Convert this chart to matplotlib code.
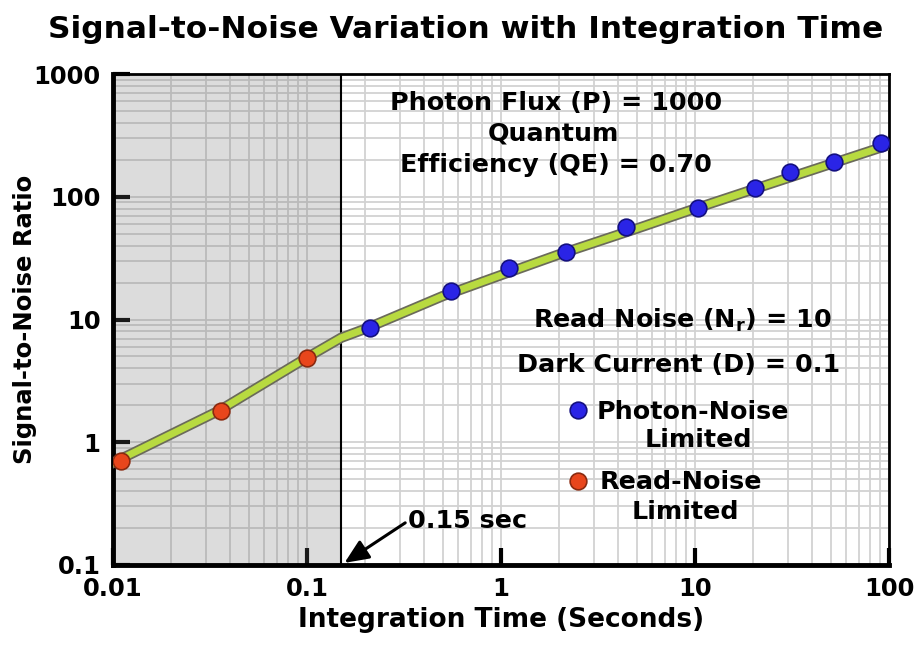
import matplotlib
matplotlib.use("Agg")
import matplotlib.pyplot as plt
import matplotlib.patheffects as pe
from matplotlib.ticker import LogLocator, NullFormatter, FixedLocator, FixedFormatter

plt.rcParams['font.family'] = ['DejaVu Sans']
plt.rcParams['font.weight'] = 'bold'
plt.rcParams['axes.labelweight'] = 'bold'
plt.rcParams['mathtext.default'] = 'bf'

# curve of S/N against integration time
tempo_linha = [0.01, 0.035, 0.1, 0.15, 0.2, 0.5, 1, 2, 5, 10, 20, 50, 100]
snr_linha = [0.68, 1.8, 4.9, 7.1, 8.4, 15.5, 23, 34, 55, 80, 115, 185, 265]

# read-noise limited points
tempo_leitura = [0.011, 0.036, 0.1]
snr_leitura = [0.71, 1.8, 4.9]

# photon-noise limited points
tempo_foton = [0.21, 0.55, 1.1, 2.15, 4.4, 10.4, 20.5, 31, 52, 91]
snr_foton = [8.6, 17.2, 26.5, 35.5, 57, 81, 118, 158, 193, 275]

tempo_corte = 0.15

ticks_x = [0.01, 0.1, 1, 10, 100]
rotulos_x = ['0.01', '0.1', '1', '10', '100']
ticks_y = [0.1, 1, 10, 100, 1000]
rotulos_y = ['0.1', '1', '10', '100', '1000']

cor_foton = '#2a24e6'
cor_leitura = '#e8461c'

fig = plt.figure(figsize=(9.15, 6.46), dpi=100)
ax = fig.add_axes([0.1235, 0.1254, 0.8481, 0.76])
ax.set_xscale('log')
ax.set_yscale('log')
ax.set_xlim(0.01, 100)
ax.set_ylim(0.1, 1000)

ax.xaxis.set_major_locator(FixedLocator(ticks_x))
ax.xaxis.set_major_formatter(FixedFormatter(rotulos_x))
ax.yaxis.set_major_locator(FixedLocator(ticks_y))
ax.yaxis.set_major_formatter(FixedFormatter(rotulos_y))

# grade menor em todas as subdivisoes
ax.xaxis.set_minor_locator(LogLocator(base=10, subs=range(2, 10)))
ax.yaxis.set_minor_locator(LogLocator(base=10, subs=range(2, 10)))
ax.xaxis.set_minor_formatter(NullFormatter())
ax.yaxis.set_minor_formatter(NullFormatter())
ax.grid(which='both', color='#d2d2d2', linewidth=1.3)
ax.set_axisbelow(True)

# regiao limitada pelo ruido de leitura (escurece a grade por baixo)
ax.axvspan(0.01, tempo_corte, color='#6e6e6e', alpha=0.24, zorder=1, lw=0)
ax.axvline(tempo_corte, color='black', lw=1.5, zorder=2)

ax.tick_params(which='major', direction='in', length=12, width=3, labelsize=17.5, pad=9)
ax.tick_params(which='minor', length=0)

for s in ['left', 'bottom']:
    ax.spines[s].set_linewidth(3.5)
for s in ['top', 'right']:
    ax.spines[s].set_linewidth(2)
for s in ax.spines.values():
    s.set_path_effects([pe.SimplePatchShadow(offset=(3, -3), shadow_rgbFace='#888888', alpha=0.6), pe.Normal()])

ax.plot(tempo_linha, snr_linha, color='#b8da40', lw=5, zorder=3,
        path_effects=[pe.Stroke(linewidth=7.5, foreground='#6b6b5a'), pe.Normal()])
ax.plot(tempo_leitura, snr_leitura, 'o', ms=12, color=cor_leitura, mec='#8a2a10', mew=1.2, zorder=4)
ax.plot(tempo_foton, snr_foton, 'o', ms=12, color=cor_foton, mec='#141080', mew=1.2, zorder=4)

fig.text(466 / 915, 1 - 29 / 646, 'Signal-to-Noise Variation with Integration Time', ha='center', va='center',
         fontsize=22.5, fontweight='bold')
ax.set_xlabel('Integration Time (Seconds)', fontsize=19, labelpad=4)
ax.set_ylabel('Signal-to-Noise Ratio', fontsize=17.5)
ax.yaxis.set_label_coords(-0.098, 0.5)

def tx(px, py, s, **kw):
    fig.text(px / 915, 1 - py / 646, s, fontsize=18.3, fontweight='bold', va='center', **kw)

tx(556, 103, 'Photon Flux (P) = 1000', ha='center')
tx(553, 134, 'Quantum', ha='center')
tx(556, 165, 'Efficiency (QE) = 0.70', ha='center')
tx(682, 320, 'Read Noise (N$_\\mathbf{r}$) = 10', ha='center')
tx(679, 365, 'Dark Current (D) = 0.1', ha='center')
tx(597, 412, 'Photon-Noise', ha='left')
tx(698, 440, 'Limited', ha='center')
tx(600, 482, 'Read-Noise', ha='left')
tx(685, 512, 'Limited', ha='center')
fig.lines.append(plt.Line2D([578 / 915], [1 - 410 / 646], transform=fig.transFigure, marker='o', ms=12,
                            color=cor_foton, mec='#141080', mew=1.2, ls=''))
fig.lines.append(plt.Line2D([578 / 915], [1 - 481 / 646], transform=fig.transFigure, marker='o', ms=12,
                            color=cor_leitura, mec='#8a2a10', mew=1.2, ls=''))

ax.annotate('0.15 sec', xy=(tempo_corte * 1.04, 0.104), xytext=(408 / 915, 1 - 521 / 646),
            textcoords='figure fraction', fontsize=18.3, fontweight='bold', va='center', ha='left',
            arrowprops=dict(arrowstyle='-|>,head_length=0.8,head_width=0.35', color='black', lw=2.2,
                            shrinkA=0, shrinkB=0, relpos=(0, 0.5)))

fig.savefig('out.png', dpi=100)
